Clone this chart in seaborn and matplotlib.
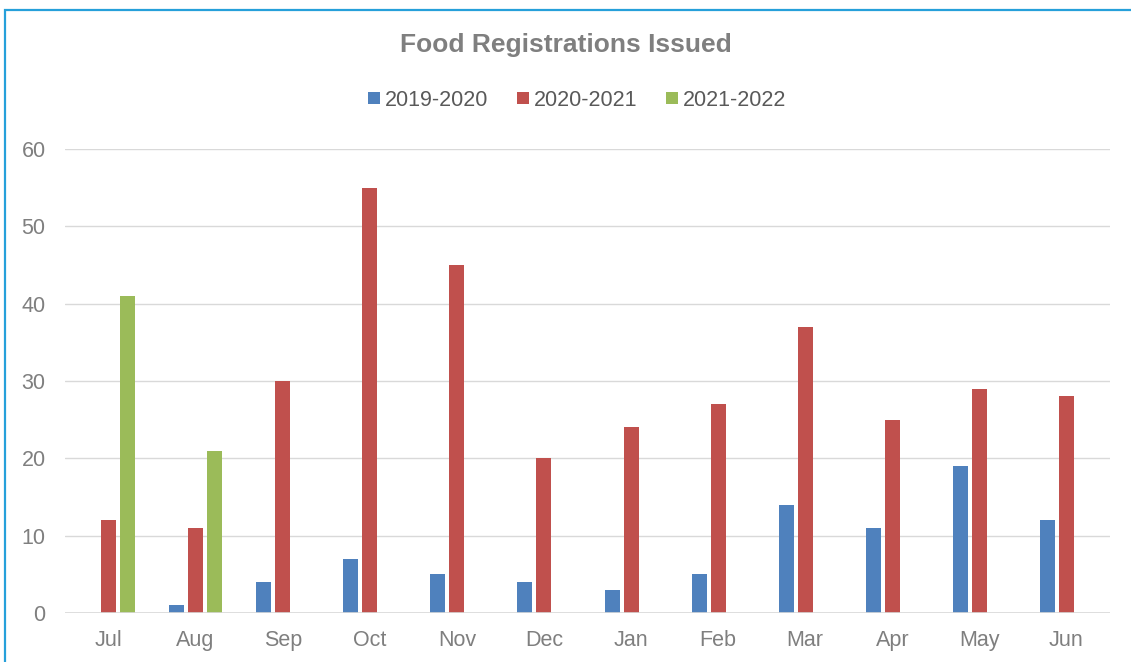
import matplotlib
matplotlib.use("Agg")
import matplotlib.pyplot as plt
from matplotlib.lines import Line2D
from matplotlib.patches import Rectangle
import numpy as np
import pandas as pd
import seaborn as sns

# Monthly counts of food registrations issued, by financial year
months = ["Jul", "Aug", "Sep", "Oct", "Nov", "Dec", "Jan", "Feb", "Mar", "Apr", "May", "Jun"]
fy_2019_2020 = [0, 1, 4, 7, 5, 4, 3, 5, 14, 11, 19, 12]
fy_2020_2021 = [12, 11, 30, 55, 45, 20, 24, 27, 37, 25, 29, 28]
fy_2021_2022 = [41, 21, np.nan, np.nan, np.nan, np.nan, np.nan, np.nan, np.nan, np.nan, np.nan, np.nan]
series_names = ["2019-2020", "2020-2021", "2021-2022"]
series_colors = ["#4F81BD", "#C0504D", "#9BBB59"]
y_ticks = [0, 10, 20, 30, 40, 50, 60]

frames = []
for name, vals in zip(series_names, [fy_2019_2020, fy_2020_2021, fy_2021_2022]):
    frames.append(pd.DataFrame({"Month": months, "Year": name, "Count": vals}))
df = pd.concat(frames, ignore_index=True)

sns.set_theme(style="white")
plt.rcParams["font.family"] = ["Liberation Sans", "DejaVu Sans"]

W, H, DPI = 1131, 662, 100
fig = plt.figure(figsize=(W / DPI, H / DPI), dpi=DPI)
ax = fig.add_axes([65 / W, 1 - 613 / H, (1110 - 65) / W, (613 - 149) / H])

sns.barplot(
    data=df, x="Month", y="Count", hue="Year", order=months,
    hue_order=series_names, palette=series_colors, saturation=1,
    width=0.655, gap=0.21, linewidth=0, errorbar=None, legend=False,
    ax=ax, zorder=3,
)

grid_color = "#D9D9D9"
text_gray = "#7F7F7F"
ax.set_ylim(0, 60)
ax.set_xlim(-0.5, len(months) - 0.5)
ax.set_yticks(y_ticks)
ax.yaxis.grid(True, color=grid_color, linewidth=1.0, zorder=0)
ax.set_axisbelow(True)
for side in ["top", "right", "left", "bottom"]:
    ax.spines[side].set_visible(False)
ax.axhline(0, color=grid_color, linewidth=1.2, zorder=4)
ax.set_xlabel("")
ax.set_ylabel("")
ax.tick_params(axis="both", length=0, labelsize=15.5, colors=text_gray)
ax.tick_params(axis="y", pad=14)
ax.tick_params(axis="x", pad=12)

fig.text(0.5, 1 - 45 / H, "Food Registrations Issued", ha="center", va="center",
         fontsize=19, fontweight="bold", color=text_gray)

handles = [Line2D([], [], marker="s", linestyle="none", markersize=8,
                  markerfacecolor=c, markeredgewidth=0) for c in series_colors]
fig.legend(handles, series_names, loc="center", bbox_to_anchor=(0.51, 1 - 100 / H),
           ncol=3, frameon=False, fontsize=15.5, handlelength=0.6, handletextpad=0.2,
           columnspacing=1.3, labelcolor="#595959")

# outer chart frame
fig.add_artist(Rectangle((5 / W, -0.05), 1.1, 1 - 9.5 / H + 0.05,
                         transform=fig.transFigure, fill=False,
                         edgecolor="#26A0DA", linewidth=1.6, clip_on=False))

fig.savefig("out.png", dpi=DPI)
